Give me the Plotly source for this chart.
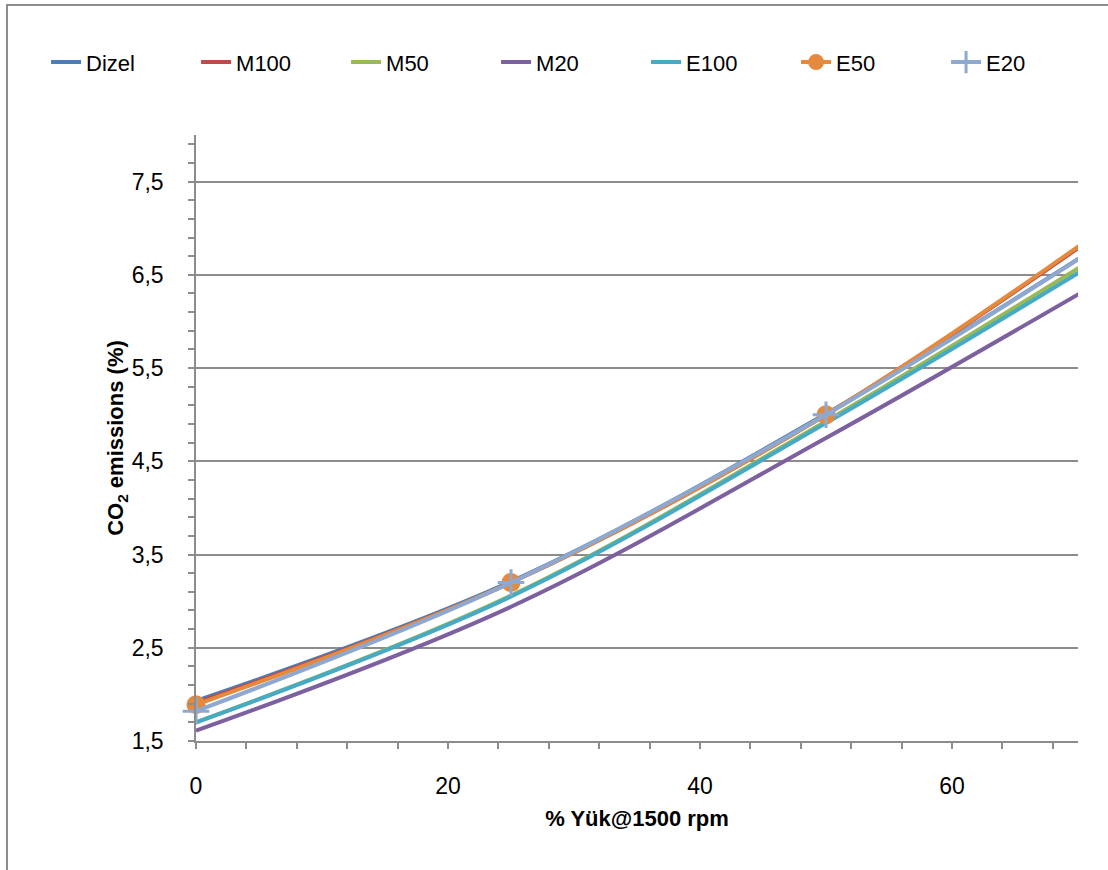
import plotly.graph_objects as go

# Engine load (%) at 1500 rpm
load = [0, 25, 50, 75]

# CO2 emissions (%) per fuel
dizel = [1.93, 3.21, 5.01, 7.10]
m100 = [1.91, 3.20, 5.00, 7.26]
m50 = [1.70, 3.06, 4.93, 6.99]
m20 = [1.61, 2.94, 4.75, 6.68]
e100 = [1.70, 3.05, 4.91, 6.93]
e50 = [1.89, 3.20, 5.00, 7.28]
e20 = [1.82, 3.20, 5.00, 7.10]

series = [
    ("Dizel", dizel, "#4A7EBB", None),
    ("M100", m100, "#BE4B48", None),
    ("M50", m50, "#98B954", None),
    ("M20", m20, "#7D60A0", None),
    ("E100", e100, "#46AAC5", None),
    ("E50", e50, "#E5893C", "circle"),
    ("E20", e20, "#8EA8D0", "cross-thin"),
]

FONT = "Liberation Sans, Arial, sans-serif"
GRID = "#8C8C8C"

fig = go.Figure()
for name, vals, color, symbol in series:
    kw = dict(mode="lines")
    if symbol == "circle":
        kw = dict(mode="lines+markers",
                  marker=dict(symbol="circle", size=19, color=color))
    elif symbol == "cross-thin":
        kw = dict(mode="lines+markers",
                  marker=dict(symbol="cross-thin", size=19, color=color,
                              line=dict(color=color, width=3)))
    fig.add_trace(go.Scatter(
        x=load, y=vals, name=name,
        line=dict(color=color, width=4, shape="spline", smoothing=1),
        cliponaxis=False, **kw))

fig.update_layout(
    width=1108, height=870,
    margin=dict(l=196, r=30, t=135, b=129),
    paper_bgcolor="white", plot_bgcolor="white",
    font=dict(family=FONT, size=22, color="black"),
    showlegend=True,
    legend=dict(orientation="h", x=-0.17, xanchor="left", y=1.12, yanchor="middle",
                font=dict(size=22), itemwidth=30, entrywidth=105,
                bgcolor="rgba(0,0,0,0)"),
    xaxis=dict(
        range=[0, 70], tick0=0, dtick=20, showgrid=False,
        showline=True, linecolor=GRID, linewidth=1.5,
        ticks="outside", ticklen=6, tickcolor=GRID, tickwidth=1.5,
        ticklabelstandoff=18, tickfont=dict(size=23),
        minor=dict(dtick=4, tick0=0, ticks="outside", ticklen=6,
                   tickcolor=GRID, tickwidth=1.5, showgrid=False),
        title=dict(text="<b>% Yük@1500 rpm</b>", font=dict(size=22), standoff=12),
        zeroline=False,
    ),
    yaxis=dict(
        range=[1.5, 8.0], tick0=1.5, dtick=1, showgrid=True,
        gridcolor=GRID, gridwidth=1.5,
        showline=True, linecolor=GRID, linewidth=1.5,
        ticks="outside", ticklen=6, tickcolor=GRID, tickwidth=1.5,
        ticklabelstandoff=20, tickfont=dict(size=23),
        tickformat=".1f",
        minor=dict(dtick=0.2, tick0=1.5, ticks="outside", ticklen=6,
                   tickcolor=GRID, tickwidth=1.5, showgrid=False),
        title=dict(text="<b>CO<sub>2</sub> emissions (%)</b>", font=dict(size=22),
                   standoff=2),
        zeroline=False,
    ),
    separators=", ",
)

# Outer chart frame
fig.add_shape(type="rect", xref="paper", yref="paper",
              x0=(7 - 196) / 882, x1=(1120 - 196) / 882,
              y0=(741 - 890) / 606, y1=(741 - 5) / 606,
              line=dict(color="#8C8C8C", width=2), fillcolor="rgba(0,0,0,0)",
              layer="below")

fig.write_html("out.html")
